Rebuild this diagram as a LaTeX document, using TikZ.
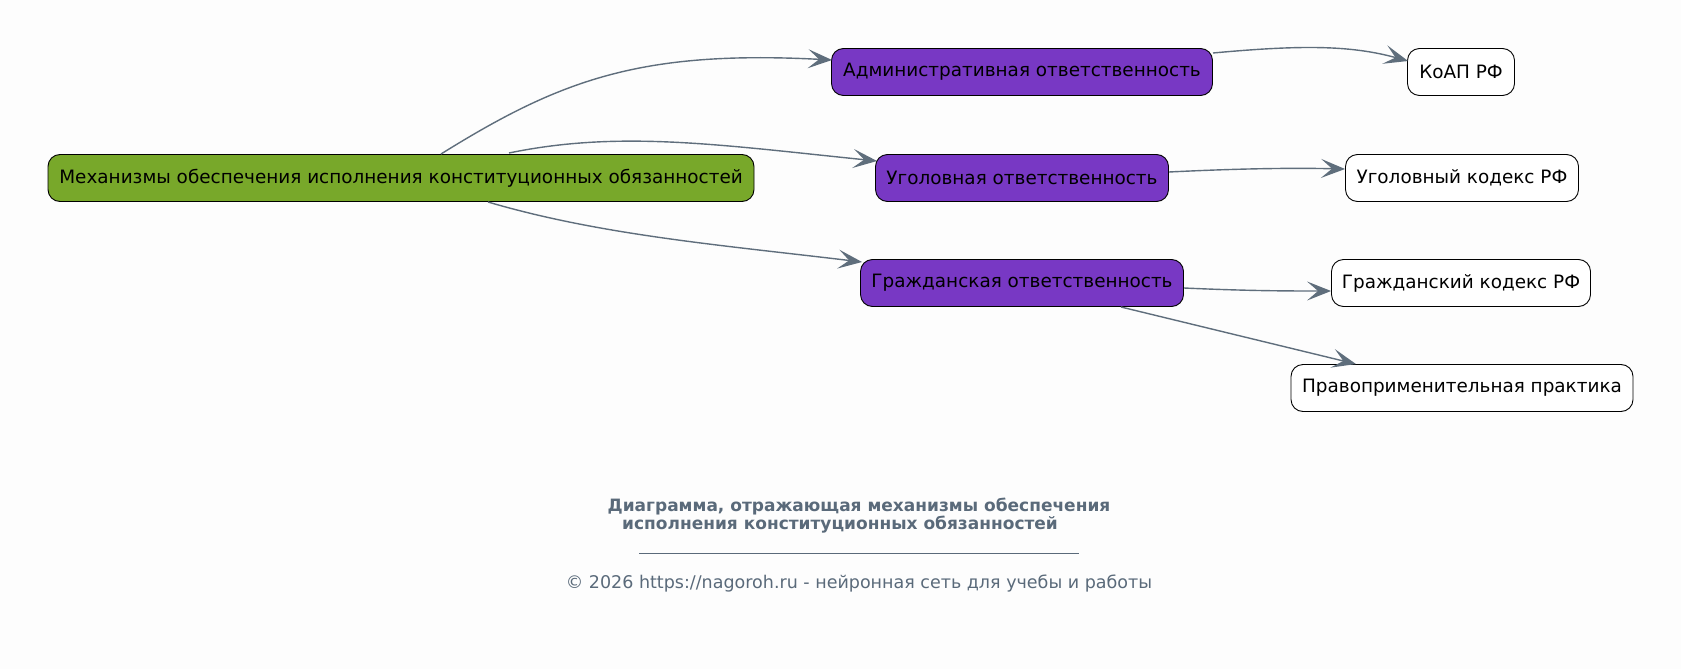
\documentclass[tikz,border=0pt]{standalone}
\usepackage{fontspec}
\setmainfont{DejaVu Sans}
\usetikzlibrary{arrows.meta}
\definecolor{bg}{HTML}{FDFDFD}
\definecolor{rootc}{HTML}{78A82A}
\definecolor{midc}{HTML}{7838C4}
\definecolor{edgec}{HTML}{5F6E7C}
\definecolor{titlec}{HTML}{5A6A7A}
\tikzset{
  box/.style={draw=black, line width=0.9pt, rounded corners=12pt, minimum height=47pt, inner sep=0pt, font=\fontsize{18.4}{22}\selectfont, text=black},
  rootbox/.style={box, fill=rootc},
  midbox/.style={box, fill=midc},
  leafbox/.style={box, fill=white},
  conn/.style={draw=edgec, line width=1.4pt, -{Stealth[length=24pt, width=19pt, inset=11pt, fill=edgec]}},
  foot/.style={text=titlec, font=\fontsize{17.5}{21}\selectfont},
}
\begin{document}
\begin{tikzpicture}[x=1pt, y=-1pt]
\useasboundingbox[fill=bg] (0,0) rectangle (1681,669);
\node[rootbox, minimum width=706pt] (root) at (401,178) {Механизмы обеспечения исполнения конституционных обязанностей};
\node[midbox, minimum width=381pt] (adm) at (1022,72) {Административная ответственность};
\node[midbox, minimum width=293pt] (ugo) at (1022,178) {Уголовная ответственность};
\node[midbox, minimum width=323pt] (gra) at (1022,283) {Гражданская ответственность};
\node[leafbox, minimum width=107pt] (koap) at (1461,72) {КоАП РФ};
\node[leafbox, minimum width=233pt] (uk) at (1462,178) {Уголовный кодекс РФ};
\node[leafbox, minimum width=259pt] (gk) at (1461,283) {Гражданский кодекс РФ};
\node[leafbox, minimum width=342pt] (prav) at (1462,388) {Правоприменительная практика};

\coordinate (r1) at (441,154);
\coordinate (r2) at (509,153);
\coordinate (r3) at (488,202);
\coordinate (a1) at (1213,53);
\coordinate (u1) at (1169,172);
\coordinate (g1) at (1184,288);
\coordinate (g2) at (1121,307);

\draw[conn] (r1) .. controls (560,80) and (640,50) .. ([xshift=1pt,yshift=12pt]adm.west);
\draw[conn] (r2) .. controls (620,130) and (720,145) .. ([xshift=2pt,yshift=17pt]ugo.west);
\draw[conn] (r3) .. controls (600,235) and (720,245) .. ([xshift=2pt,yshift=21pt]gra.west);
\draw[conn] (a1) .. controls (1300,45) and (1350,45) .. ([xshift=1pt,yshift=11pt]koap.west);
\draw[conn] (u1) .. controls (1250,168) and (1300,168) .. ([yshift=9pt]uk.west);
\draw[conn] (g1) .. controls (1250,291) and (1290,291) .. ([yshift=-8pt]gk.west);
\draw[conn] (g2) -- ([xshift=-106pt]prav.north);

\node[foot, font=\bfseries\fontsize{17}{21}\selectfont] (t1) at (859,507) {Диаграмма, отражающая механизмы обеспечения};
\node[foot, font=\bfseries\fontsize{17}{21}\selectfont] (t2) at (840,525) {исполнения конституционных обязанностей};
\draw[titlec, line width=0.6pt] (639,553) -- (1079,553);
\node[foot] (cp) at (859,584) {© 2026 https://nagoroh.ru - нейронная сеть для учебы и работы};
\end{tikzpicture}
\end{document}
